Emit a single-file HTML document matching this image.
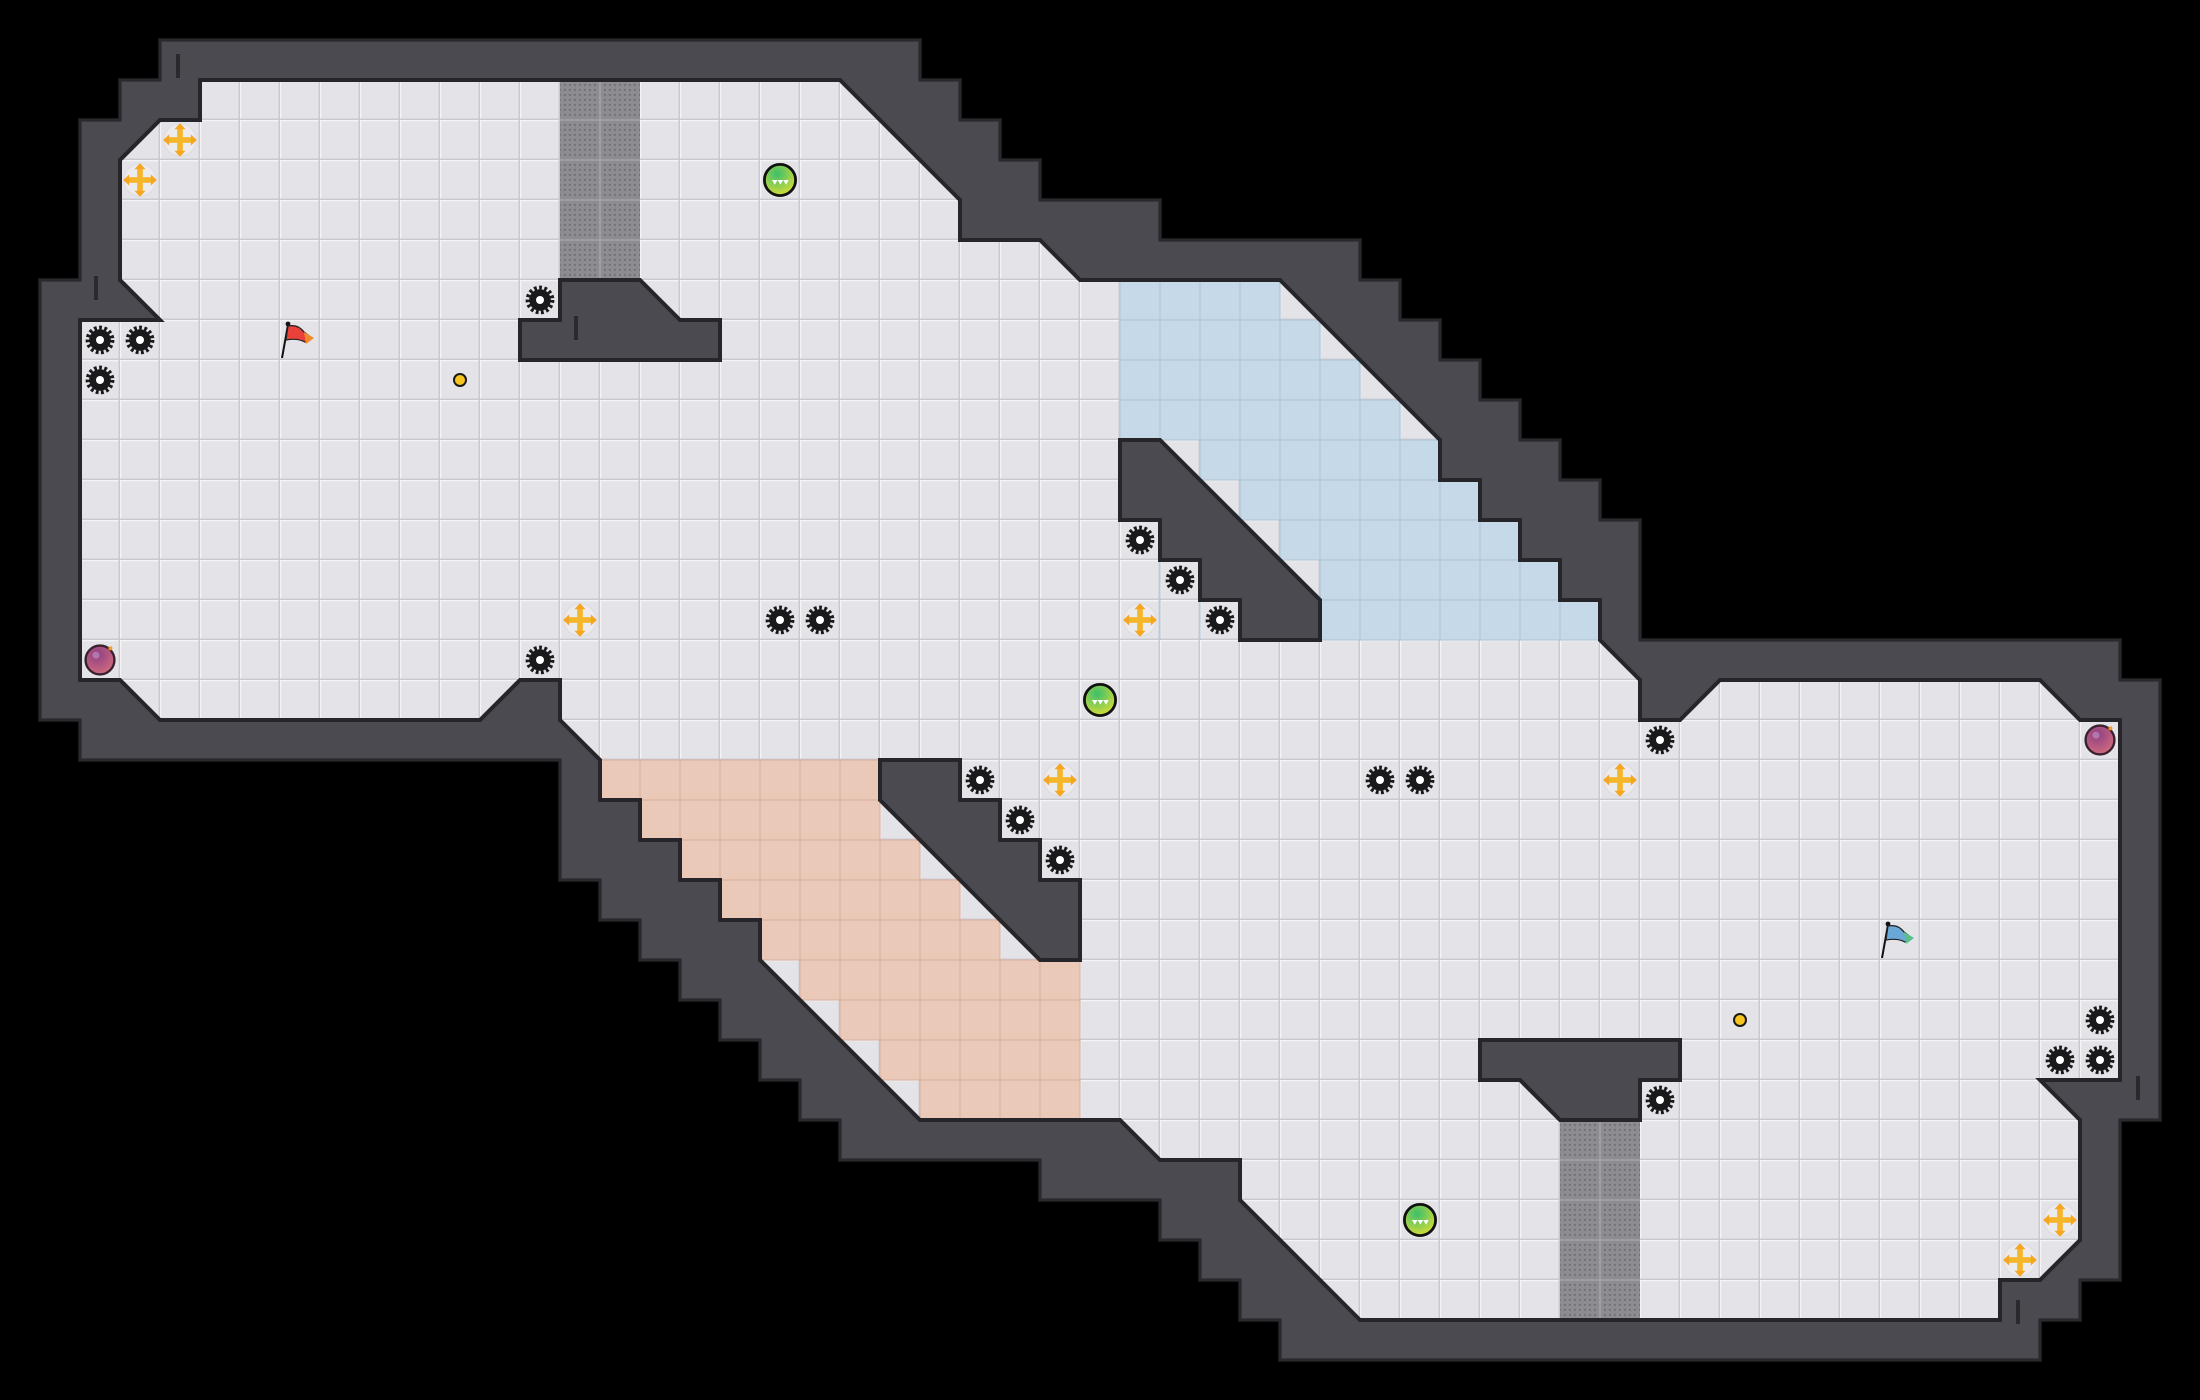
<!DOCTYPE html>
<html><head><meta charset="utf-8"><style>html,body{margin:0;padding:0;background:#000;}svg{display:block}</style></head>
<body>
<svg width="2200" height="1400" viewBox="0 0 2200 1400" xmlns="http://www.w3.org/2000/svg">
<defs>
<pattern id="tile" width="1" height="1" patternUnits="userSpaceOnUse">
<rect width="1" height="1" fill="#e3e3e8"/>
<path d="M0 0.015H1M0.015 0V1" stroke="#f4f4f7" stroke-width="0.03"/>
<path d="M0 0.985H1M0.985 0V1" stroke="#c8c8cf" stroke-width="0.04"/>
</pattern>
<pattern id="dots" width="0.125" height="0.125" patternUnits="userSpaceOnUse" x="0.06" y="0.06">
<circle cx="0.0625" cy="0.0625" r="0.025" fill="#6a6a6e"/>
</pattern>
<radialGradient id="gg" cx="0.4" cy="0.3" r="0.8"><stop offset="0" stop-color="#3cbf6a"/><stop offset="1" stop-color="#e5e030"/></radialGradient>
<radialGradient id="pg" cx="0.4" cy="0.3" r="0.8"><stop offset="0" stop-color="#8d3f86"/><stop offset="1" stop-color="#d9707a"/></radialGradient>
<g id="gear"><circle r="0.27" fill="#1a1a1c"/><circle r="0.31" fill="none" stroke="#1a1a1c" stroke-width="0.1" stroke-dasharray="0.07 0.06"/><circle r="0.1" fill="#fff"/></g>
<g id="dpad"><circle r="0.4" fill="#ececef" stroke="#d8d8de" stroke-width="0.02"/>
<rect x="-0.33" y="-0.07" width="0.66" height="0.14" fill="#f6b62a"/><rect x="-0.07" y="-0.33" width="0.14" height="0.66" fill="#f6b62a"/>
<path d="M-0.42 0L-0.27 -0.14V0.14Z M0.42 0L0.27 -0.14V0.14Z M0 -0.42L-0.14 -0.27H0.14Z M0 0.42L-0.14 0.27H0.14Z" fill="#f5a623"/></g>
<g id="orbG"><circle r="0.39" fill="url(#gg)" stroke="#111" stroke-width="0.07"/><path d="M-0.2 0L-0.13 0.12L-0.06 0L0.01 0.12L0.08 0L0.15 0.12L0.22 0Z" fill="#fff"/></g>
<g id="orbP"><circle r="0.36" fill="url(#pg)" stroke="#3a2230" stroke-width="0.06"/><circle cx="-0.1" cy="-0.12" r="0.09" fill="#c79ac0" opacity="0.6"/><circle cx="0.26" cy="-0.29" r="0.05" fill="#f39a2a"/></g>
<g id="coin"><circle r="0.15" fill="#f7c51e" stroke="#1a1a1a" stroke-width="0.05"/></g>
</defs>
<rect width="2200" height="1400" fill="#000"/>
<g transform="scale(40)">
<polygon fill="#4b4a50" stroke="#2a292e" stroke-width="0.08" points="4,1 23,1 23,2 24,2 24,3 25,3 25,4 26,4 26,5 29,5 29,6 34,6 34,7 35,7 35,8 36,8 36,9 37,9 37,10 38,10 38,11 39,11 39,12 40,12 40,13 41,13 41,16 53,16 53,17 54,17 54,28 53,28 53,32 52,32 52,33 51,33 51,34 32,34 32,33 31,33 31,32 30,32 30,31 29,31 29,30 26,30 26,29 21,29 21,28 20,28 20,27 19,27 19,26 18,26 18,25 17,25 17,24 16,24 16,23 15,23 15,22 14,22 14,19 2,19 2,18 1,18 1,7 2,7 2,3 3,3 3,2 4,2"/>
<polygon fill="url(#tile)" points="5,2 21,2 24,5 24,6 26,6 27,7 32,7 36,11 36,12 37,12 37,13 38,13 38,14 39,14 39,15 40,15 40,16 41,17 41,18 42,18 43,17 51,17 52,18 53,18 53,27 51,27 52,28 52,31 51,32 50,32 50,33 34,33 31,30 31,29 29,29 28,28 23,28 19,24 19,23 18,23 18,22 17,22 17,21 16,21 16,20 15,20 15,19 14,18 14,17 13,17 12,18 4,18 3,17 2,17 2,8 4,8 3,7 3,4 4,3 5,3"/>
<g fill="#c5d9e8" stroke="#b3c8d8" stroke-width="0.03">
<rect x="28" y="7" width="4" height="1"/><rect x="28" y="8" width="5" height="1"/><rect x="28" y="9" width="6" height="1"/><rect x="28" y="10" width="7" height="1"/>
<rect x="30" y="11" width="6" height="1"/><rect x="31" y="12" width="6" height="1"/><rect x="32" y="13" width="6" height="1"/><rect x="33" y="14" width="6" height="1"/><rect x="33" y="15" width="7" height="1"/>
</g>
<g stroke="#b3c8d8" stroke-width="0.03">
<path d="M29 7V16M30 7V16M31 7V16M32 7V16M33 8V16M34 9V16M35 10V16M36 12V16M37 13V16M38 14V16M39 15V16"/>
</g>
<g fill="#ebc9b9" stroke="#dab5a4" stroke-width="0.03">
<rect x="15" y="19" width="7" height="1"/><rect x="16" y="20" width="6" height="1"/><rect x="17" y="21" width="6" height="1"/><rect x="18" y="22" width="6" height="1"/><rect x="19" y="23" width="6" height="1"/>
<rect x="20" y="24" width="7" height="1"/><rect x="21" y="25" width="6" height="1"/><rect x="22" y="26" width="5" height="1"/><rect x="23" y="27" width="4" height="1"/>
</g>
<g stroke="#dab5a4" stroke-width="0.03">
<path d="M16 19V20M17 19V21M18 19V22M19 19V23M20 19V24M21 19V25M22 21V26M23 22V27M24 23V28M25 24V28M26 24V28"/>
</g>
<g>
<rect x="14" y="2" width="2" height="5" fill="#8d8d91"/><rect x="14" y="2" width="2" height="5" fill="url(#dots)"/>
<path d="M14 3H16M14 4H16M14 5H16M14 6H16M15 2V7" stroke="#a6a6aa" stroke-width="0.04"/>
<rect x="39" y="28" width="2" height="5" fill="#8d8d91"/><rect x="39" y="28" width="2" height="5" fill="url(#dots)"/>
<path d="M39 29H41M39 30H41M39 31H41M39 32H41M40 28V33" stroke="#a6a6aa" stroke-width="0.04"/>
</g>
<polygon fill="none" stroke="#262529" stroke-width="0.1" points="5,2 21,2 24,5 24,6 26,6 27,7 32,7 36,11 36,12 37,12 37,13 38,13 38,14 39,14 39,15 40,15 40,16 41,17 41,18 42,18 43,17 51,17 52,18 53,18 53,27 51,27 52,28 52,31 51,32 50,32 50,33 34,33 31,30 31,29 29,29 28,28 23,28 19,24 19,23 18,23 18,22 17,22 17,21 16,21 16,20 15,20 15,19 14,18 14,17 13,17 12,18 4,18 3,17 2,17 2,8 4,8 3,7 3,4 4,3 5,3"/>
<g fill="#4b4a50" stroke="#262529" stroke-width="0.1">
<polygon points="14,7 16,7 17,8 18,8 18,9 13,9 13,8 14,8"/>
<polygon points="28,11 29,11 33,15 33,16 31,16 31,15 30,15 30,14 29,14 29,13 28,13"/>
<polygon points="22,19 24,19 24,20 25,20 25,21 26,21 26,22 27,22 27,24 26,24 22,20"/>
<polygon points="37,26 42,26 42,27 41,27 41,28 39,28 38,27 37,27"/>
</g>
<g stroke="#2a292e" stroke-width="0.1">
<path d="M4.45 1.35V1.95M2.4 6.9V7.5M14.4 7.9V8.5M53.45 26.9V27.5M50.45 32.5V33.1"/>
</g>
<g>
<use href="#dpad" x="4.5" y="3.5"/><use href="#dpad" x="3.5" y="4.5"/><use href="#dpad" x="14.5" y="15.5"/><use href="#dpad" x="28.5" y="15.5"/>
<use href="#dpad" x="26.5" y="19.5"/><use href="#dpad" x="40.5" y="19.5"/><use href="#dpad" x="51.5" y="30.5"/><use href="#dpad" x="50.5" y="31.5"/>
<use href="#gear" x="13.5" y="7.5"/><use href="#gear" x="2.5" y="8.5"/><use href="#gear" x="3.5" y="8.5"/><use href="#gear" x="2.5" y="9.5"/>
<use href="#gear" x="13.5" y="16.5"/><use href="#gear" x="19.5" y="15.5"/><use href="#gear" x="20.5" y="15.5"/>
<use href="#gear" x="28.5" y="13.5"/><use href="#gear" x="29.5" y="14.5"/><use href="#gear" x="30.5" y="15.5"/>
<use href="#gear" x="24.5" y="19.5"/><use href="#gear" x="25.5" y="20.5"/><use href="#gear" x="26.5" y="21.5"/>
<use href="#gear" x="34.5" y="19.5"/><use href="#gear" x="35.5" y="19.5"/><use href="#gear" x="41.5" y="18.5"/>
<use href="#gear" x="52.5" y="25.5"/><use href="#gear" x="51.5" y="26.5"/><use href="#gear" x="52.5" y="26.5"/><use href="#gear" x="41.5" y="27.5"/>
<use href="#orbG" x="19.5" y="4.5"/><use href="#orbG" x="27.5" y="17.5"/><use href="#orbG" x="35.5" y="30.5"/>
<use href="#orbP" x="2.5" y="16.5"/><use href="#orbP" x="52.5" y="18.5"/>
<use href="#coin" x="11.5" y="9.5"/><use href="#coin" x="43.5" y="25.5"/>
</g>
<g>
<path d="M7.05 8.95L7.2 8.12" stroke="#111" stroke-width="0.05"/>
<circle cx="7.2" cy="8.1" r="0.06" fill="#111"/>
<path d="M7.2 8.15Q7.45 8.1 7.6 8.3L7.8 8.45L7.62 8.55Q7.45 8.45 7.15 8.5Z" fill="#e8413a" stroke="#222" stroke-width="0.03"/>
<path d="M7.6 8.3L7.85 8.45L7.65 8.6Z" fill="#f08a2a"/>
<path d="M47.05 23.95L47.2 23.12" stroke="#111" stroke-width="0.05"/>
<circle cx="47.2" cy="23.1" r="0.06" fill="#111"/>
<path d="M47.2 23.15Q47.45 23.1 47.6 23.3L47.8 23.45L47.62 23.55Q47.45 23.45 47.15 23.5Z" fill="#6aa8d8" stroke="#222" stroke-width="0.03"/>
<path d="M47.6 23.3L47.85 23.45L47.65 23.6Z" fill="#5ac08a"/>
</g>
</g>
</svg>
</body></html>
